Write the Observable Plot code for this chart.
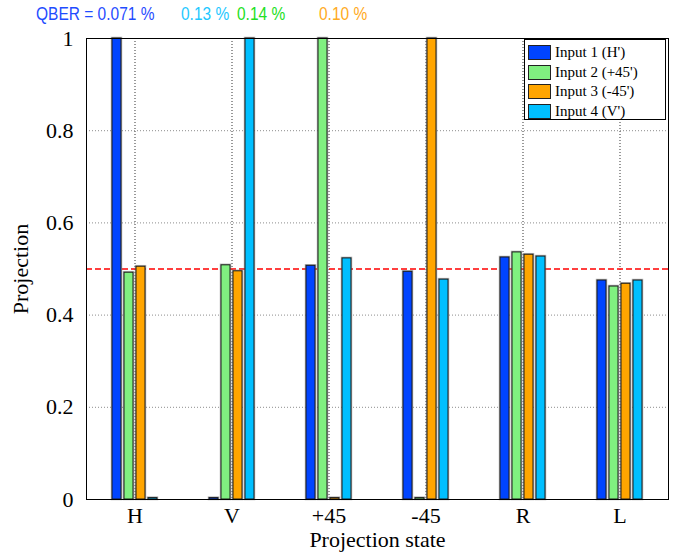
<!DOCTYPE html>
<html>
<head>
<meta charset="utf-8">
<script src="https://cdn.jsdelivr.net/npm/d3@7"></script>
<script src="https://cdn.jsdelivr.net/npm/@observablehq/plot@0.6"></script>
<style>
  html, body { margin: 0; padding: 0; background: #fff; }
  #wrap { position: relative; width: 685px; height: 559px; overflow: hidden; }
  #wrap svg { position: absolute; left: 0; top: 0; }
  .qber { position: absolute; top: 4px; font-family: "Liberation Sans", Arial, sans-serif; font-size: 15.5px; line-height: 16px; white-space: nowrap; transform: scaleY(1.2); transform-origin: 0 0; }
  #legend { position: absolute; left: 524px; top: 39px; width: 142px; height: 81px; border: 1px solid #000; background: #fff; box-sizing: border-box; font-family: "Liberation Serif", "Times New Roman", serif; font-size: 15px; padding-top: 3px; }
  #legend .row { display: flex; align-items: center; height: 19.5px; padding-left: 3px; }
  #legend .sw { width: 23px; height: 15px; border: 1px solid #222; box-sizing: border-box; margin-right: 4px; }
</style>
</head>
<body>
<div id="wrap"></div>
<script>
// ---- data ----
const states = ["H", "V", "+45", "-45", "R", "L"];
const inputs = ["Input 1 (H')", "Input 2 (+45')", "Input 3 (-45')", "Input 4 (V')"];
const colors = ["#0044ff", "#80f080", "#ffa500", "#00bfff"];
const input1 = [1.0, 0.003, 0.507, 0.494, 0.525, 0.475];
const input2 = [0.492, 0.508, 1.0, 0.003, 0.536, 0.462];
const input3 = [0.505, 0.495, 0.003, 1.0, 0.531, 0.468];
const input4 = [0.003, 1.0, 0.523, 0.477, 0.527, 0.475];
const yTicks = [0, 0.2, 0.4, 0.6, 0.8, 1];
const gridTicks = [0.2, 0.4, 0.6, 0.8];
const referenceLevel = 0.5;
const xTitle = "Projection state";
const yTitle = "Projection";
const qberLabels = ["QBER = 0.071 %", "0.13 %", "0.14 %", "0.10 %"];
const qberColors = ["#1f4cff", "#1ec8ff", "#22e022", "#ffaa22"];
const qberLeft = [36, 181, 237, 319];

const series = [input1, input2, input3, input4];
const data = [];
series.forEach((vals, i) => vals.forEach((v, j) => data.push({state: states[j], input: inputs[i], value: v})));

const W = 685, H = 559;
const margins = {marginLeft: 86, marginRight: 17, marginTop: 38, marginBottom: 60};
const style = {fontFamily: "'Liberation Serif', 'Times New Roman', serif", fontSize: "22px", background: "transparent", overflow: "visible", color: "#000"};

const wrap = document.getElementById("wrap");

// axes, grid, reference line
const axes = Plot.plot({
  width: W, height: H, ...margins, style,
  x: {type: "band", domain: states, padding: 0},
  y: {domain: [0, 1]},
  marks: [
    Plot.gridY(gridTicks, {stroke: "#000", strokeOpacity: 0.45, strokeDasharray: "1,2"}),
    Plot.gridX({stroke: "#000", strokeOpacity: 0.8, strokeDasharray: "1,2"}),
    Plot.ruleY([referenceLevel], {stroke: "#ff0000", strokeWidth: 1.5, strokeDasharray: "6,3"}),
    Plot.axisY(yTicks, {tickSize: 0, tickPadding: 13, tickFormat: d => String(d), label: null}),
    Plot.axisX({tickSize: 0, tickPadding: 8, label: null})
  ]
});
wrap.appendChild(axes);

// bars
const bars = Plot.plot({
  width: W, height: H, ...margins, style,
  fx: {domain: states, paddingInner: 0.5, paddingOuter: 0.25, axis: null, label: null},
  x: {domain: inputs, paddingInner: 0.25, paddingOuter: 0.1, axis: null},
  y: {domain: [0, 1], axis: null},
  color: {domain: inputs, range: colors},
  marks: [
    Plot.barY(data, {fx: "state", x: "input", y: "value", fill: "input", stroke: "#888", strokeWidth: 2.5, strokeOpacity: 0.6}),
    Plot.barY(data, {fx: "state", x: "input", y: "value", fill: "input", stroke: "#1a1a1a", strokeWidth: 1})
  ]
});
wrap.appendChild(bars);

// frame and axis titles on top
const frame = Plot.plot({
  width: W, height: H, ...margins, style,
  x: {type: "band", domain: states, axis: null},
  y: {domain: [0, 1], axis: null},
  marks: [
    Plot.frame({stroke: "#000", strokeWidth: 1}),
    Plot.text([xTitle], {frameAnchor: "bottom", dy: 47, fontSize: 22}),
    Plot.text([yTitle], {frameAnchor: "left", dx: -66, rotate: -90, textAnchor: "middle", fontSize: 22})
  ]
});
wrap.appendChild(frame);

// QBER annotations
qberLabels.forEach((t, i) => {
  const s = document.createElement("span");
  s.className = "qber";
  s.style.left = qberLeft[i] + "px";
  s.style.color = qberColors[i];
  s.textContent = t;
  wrap.appendChild(s);
});

// legend
const lg = document.createElement("div");
lg.id = "legend";
inputs.forEach((name, i) => {
  const row = document.createElement("div");
  row.className = "row";
  const sw = document.createElement("div");
  sw.className = "sw";
  sw.style.background = colors[i];
  const tx = document.createElement("span");
  tx.textContent = name;
  row.appendChild(sw);
  row.appendChild(tx);
  lg.appendChild(row);
});
wrap.appendChild(lg);
</script>
</body>
</html>
